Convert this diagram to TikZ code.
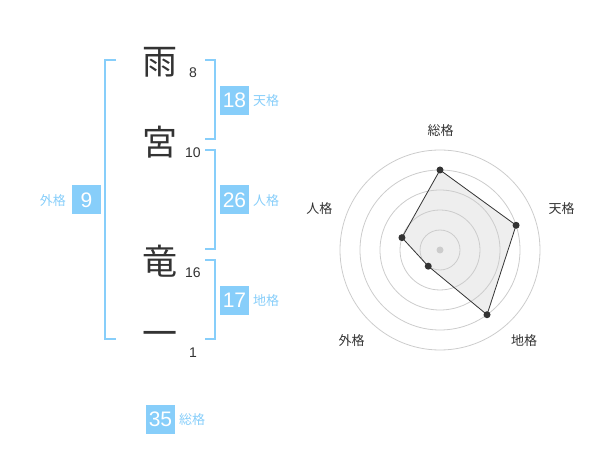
\documentclass[tikz,border=0pt]{standalone}
\usepackage{fontspec}
\setmainfont{Liberation Sans}
\newfontfamily\cjk{Noto Sans CJK JP}
\definecolor{sky}{HTML}{87CEFA}
\definecolor{ink}{HTML}{333333}
\definecolor{ring}{HTML}{CCCCCC}
\definecolor{area}{HTML}{EEEEEE}
\begin{document}
\begin{tikzpicture}[x=1pt,y=-1pt,
  kanji/.style={font=\cjk\fontsize{35}{35}\selectfont, text=ink, inner sep=0},
  strokes/.style={font=\fontsize{14}{14}\selectfont, text=ink, inner sep=0},
  numbox/.style={fill=sky, text=white, minimum size=29pt, inner sep=0, font=\fontsize{21}{21}\selectfont},
  kaku/.style={font=\cjk\fontsize{13}{13}\selectfont, text=sky, inner sep=0},
  bracket/.style={draw=sky, line width=2pt},
  axislabel/.style={font=\cjk\fontsize{13}{13}\selectfont, text=ink, inner sep=0},
  ringline/.style={draw=ring, line width=0.8pt},
  dot/.style={circle, fill=ink, inner sep=0, minimum size=7pt},
  polyarea/.style={fill=area},
  polyline/.style={draw=ink, line width=0.8pt}
]
\useasboundingbox (0,0) rectangle (600,470);

% characters
\node[kanji] (c1) at (160,62) {雨};
\node[kanji] (c2) at (160,142) {宮};
\node[kanji] (c3) at (160,261) {竜};
\node[kanji] (c4) at (160,339) {一};
\node[strokes] (s1) at (193,73) {8};
\node[strokes] (s2) at (193,153) {10};
\node[strokes] (s3) at (193,273) {16};
\node[strokes] (s4) at (193,353) {1};

% brackets
\coordinate (L1) at (116,60); \coordinate (L2) at (105,60);
\coordinate (L3) at (105,339); \coordinate (L4) at (116,339);
\draw[bracket] (L1) -- (L2) -- (L3) -- (L4);
\coordinate (T1) at (205,60); \coordinate (T2) at (215,60);
\coordinate (T3) at (215,139); \coordinate (T4) at (205,139);
\draw[bracket] (T1) -- (T2) -- (T3) -- (T4);
\coordinate (J1) at (205,150); \coordinate (J2) at (215,150);
\coordinate (J3) at (215,249); \coordinate (J4) at (205,249);
\draw[bracket] (J1) -- (J2) -- (J3) -- (J4);
\coordinate (C1) at (205,260); \coordinate (C2) at (215,260);
\coordinate (C3) at (215,339); \coordinate (C4) at (205,339);
\draw[bracket] (C1) -- (C2) -- (C3) -- (C4);

% boxes and labels
\node[numbox] (b18) at (234.5,100.5) {18};
\node[kaku, anchor=west] (k18) at (253,101) {天格};
\node[numbox] (b26) at (234.5,200) {26};
\node[kaku, anchor=west] (k26) at (253,201) {人格};
\node[numbox] (b17) at (234.5,300.5) {17};
\node[kaku, anchor=west] (k17) at (253,301) {地格};
\node[numbox] (b9) at (86.5,200) {9};
\node[kaku, anchor=east] (k9) at (66,201) {外格};
\node[numbox] (b35) at (160.5,419) {35};
\node[kaku, anchor=west] (k35) at (179,420) {総格};

% radar chart
\begin{scope}[shift={(440,250)}, y=1pt]
  \coordinate (p1) at (90:80);
  \coordinate (p2) at (18:80);
  \coordinate (p3) at (-54:80);
  \coordinate (p4) at (-126:20);
  \coordinate (p5) at (162:40);
  \fill[polyarea] (p1) -- (p2) -- (p3) -- (p4) -- (p5) -- cycle;
  \foreach \r in {20,40,60,80,100} \draw[ringline] (0,0) circle (\r);
  \draw[polyline] (p1) -- (p2) -- (p3) -- (p4) -- (p5) -- cycle;
  \node[circle, fill=ring, inner sep=0, minimum size=7pt] (ctr) at (0,0) {};
  \node[dot] (d1) at (p1) {};
  \node[dot] (d2) at (p2) {};
  \node[dot] (d3) at (p3) {};
  \node[dot] (d4) at (p4) {};
  \node[dot] (d5) at (p5) {};
  \node[axislabel] (a1) at (0.7,119.3) {総格};
  \node[axislabel] (a2) at (121.7,41.7) {天格};
  \node[axislabel] (a3) at (84,-90.7) {地格};
  \node[axislabel] (a4) at (-88.3,-90.7) {外格};
  \node[axislabel] (a5) at (-120.7,41.7) {人格};
\end{scope}
\end{tikzpicture}
\end{document}
